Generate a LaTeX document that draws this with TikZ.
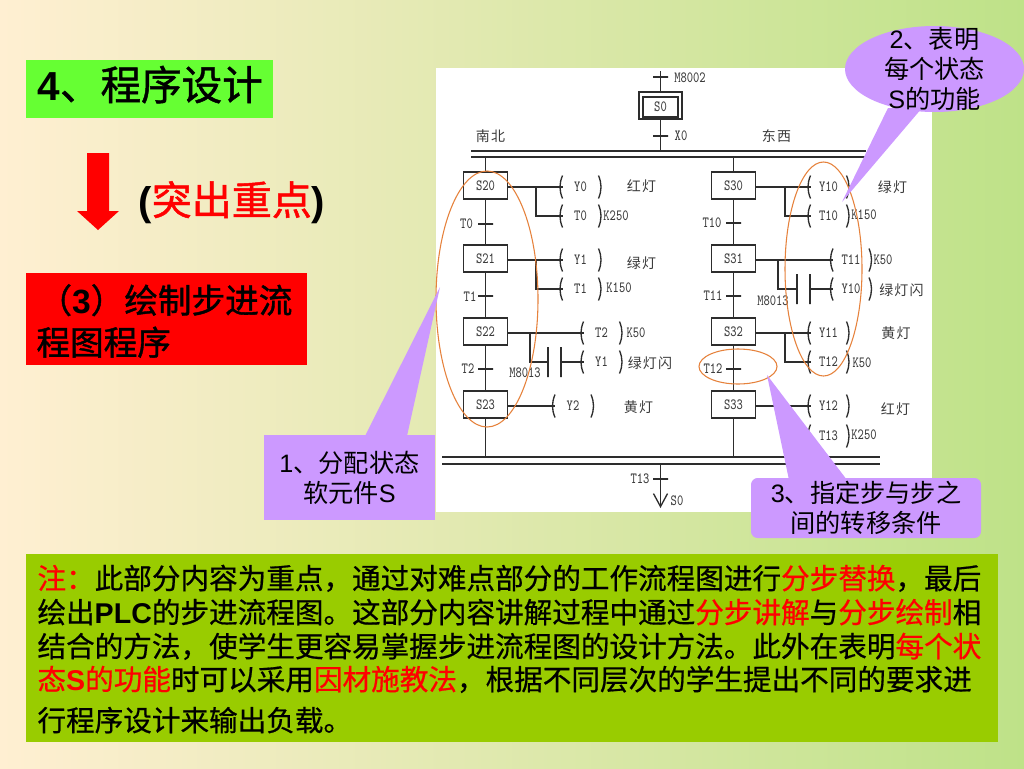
\documentclass[tikz,border=0pt]{standalone}
\usepackage{fontspec}
\usepackage{graphicx}
\setmainfont{Liberation Sans}
\newfontfamily\cjk{Noto Sans CJK SC}
\newfontfamily\cjkm[FakeBold=0.6]{Noto Sans CJK SC}
\newfontfamily\cjkb[FakeBold=1.2]{Noto Sans CJK SC}
\newfontfamily\cjks[LetterSpace=8]{Noto Sans CJK SC}
\usetikzlibrary{arrows.meta,shapes.geometric}

\definecolor{bgleft}{RGB}{255,239,210}
\definecolor{bgmid}{RGB}{228,232,178}
\definecolor{bgright}{RGB}{190,226,136}
\definecolor{titlegreen}{RGB}{102,255,51}
\definecolor{notegreen}{RGB}{153,204,0}
\definecolor{callpurple}{RGB}{204,153,255}
\definecolor{ringorange}{RGB}{230,130,60}
\definecolor{wire}{RGB}{45,45,45}
\definecolor{labgray}{RGB}{60,60,60}

\newcommand{\plab}[1]{\scalebox{1}[1.3]{\ttfamily\fontsize{9}{10}\selectfont #1}}
\newcommand{\lat}[1]{{\rmfamily\bfseries #1}}

\tikzset{every picture/.style={line width=0.75pt},
  stepbox/.style={draw=wire,line width=1pt,fill=white,inner sep=0pt,minimum width=33pt,minimum height=20.25pt,text=labgray},
  trans/.style={draw=wire,line width=1pt,inner sep=0pt,outer sep=0pt,minimum width=11.25pt,minimum height=0pt},
  contact/.style={draw=wire,line width=1pt,inner sep=0pt,outer sep=0pt,minimum width=0pt,minimum height=22.5pt},
  coil/.style={inner sep=0pt,minimum width=26.25pt,minimum height=16.5pt,text=labgray,
    append after command={(\tikzlastnode.north west) edge[draw=wire,line width=1pt,bend left=22] (\tikzlastnode.south west)
      (\tikzlastnode.north east) edge[draw=wire,line width=1pt,bend right=22] (\tikzlastnode.south east)}},
  lab/.style={inner sep=0pt,text=labgray},
  hanzi/.style={inner sep=0pt,text=labgray,font=\cjks\fontsize{10.5}{12}\selectfont},
  wireline/.style={draw=wire,line width=1pt},
  ring/.style={draw=ringorange,line width=0.8pt},
  calltext/.style={align=center,text=black,font=\cjk\fontsize{18.9}{22.5}\selectfont},
  noteline/.style={anchor=base west,inner sep=0pt,font=\cjkm\fontsize{21.45}{26}\selectfont},
}

\begin{document}
\begin{tikzpicture}[x=0.75pt,y=0.75pt,yscale=-1]

\path[use as bounding box] (0,0) rectangle (1024,768);
\shade[left color=bgleft,middle color=bgmid,right color=bgright] (0,0) rectangle (1024,768);

% left column
\node[fill=titlegreen,minimum width=185.25pt,minimum height=43.5pt,inner sep=0pt] (titlebox) at (149.5,88.5) {};
\node[anchor=base west,inner sep=0pt,font=\cjkb\fontsize{30.4}{36}\selectfont] (titletext) at (37,100) {\lat{4}、程序设计};
\fill[red] (87,153) -- (109,153) -- (109,211) -- (119,211) -- (98,230) -- (77,211) -- (87,211) -- cycle;
\node[anchor=base west,inner sep=0pt,font=\cjkb\fontsize{30}{36}\selectfont] (stress) at (138,215) {\lat{(}\textcolor{red}{突出重点}\lat{)}};
\node[fill=red,minimum width=210.75pt,minimum height=69pt,inner sep=0pt] (redbox) at (166.5,319) {};
\node[anchor=base west,inner sep=0pt,font=\cjkb\fontsize{25.2}{30}\selectfont] (redtexta) at (38,313) {（\lat{3}）绘制步进流};
\node[anchor=base west,inner sep=0pt,font=\cjkb\fontsize{25.2}{30}\selectfont] (redtextb) at (36,355) {程图程序};

% diagram panel
\fill[white] (436,68) rectangle (932,512);

\node[stepbox,minimum width=32.25pt,minimum height=20.25pt] (S0frame) at (660.5,105.5) {};
\node[stepbox,minimum width=26.25pt,minimum height=15pt] (S0) at (660.5,107) {\plab{S0}};
\node[stepbox] (S20) at (485.5,185.5) {\plab{S20}};
\node[stepbox] (S21) at (485.5,258.5) {\plab{S21}};
\node[stepbox] (S22) at (485.5,331.5) {\plab{S22}};
\node[stepbox] (S23) at (485.5,404.5) {\plab{S23}};
\node[stepbox] (S30) at (733.5,185.5) {\plab{S30}};
\node[stepbox] (S31) at (733.5,258.5) {\plab{S31}};
\node[stepbox] (S32) at (733.5,331.5) {\plab{S32}};
\node[stepbox] (S33) at (733.5,404.5) {\plab{S33}};

\node[trans] (tM) at (660.5,77) {};
\node[trans] (tX) at (660.5,136) {};
\node[trans] (tT0) at (485.5,224) {};
\node[trans] (tT1) at (485.5,296) {};
\node[trans] (tT2) at (485.5,369) {};
\node[trans] (tT10) at (733.5,223) {};
\node[trans] (tT11) at (733.5,296) {};
\node[trans] (tT12) at (733.5,369) {};
\node[trans] (tT13) at (660.5,479) {};

\coordinate (topS0) at (660.5,71);
\coordinate (barAl) at (471,151);
\coordinate (barAr) at (866,151);
\coordinate (barBl) at (471,157);
\coordinate (barBr) at (866,157);
\coordinate (barCl) at (442,457);
\coordinate (barCr) at (880,457);
\coordinate (barDl) at (442,464);
\coordinate (barDr) at (880,464);
\coordinate (endT13) at (660.5,508);

\draw[wireline] (barAl) -- (barAr);
\draw[wireline] (barBl) -- (barBr);
\draw[wireline] (barCl) -- (barCr);
\draw[wireline,line width=1.3pt] (barDl) -- (barDr);

\draw[wireline] (topS0) -- (S0frame);
\draw[wireline] (S0frame) -- (S0frame.south |- barAl);
\draw[wireline] (S20.north |- barBl) -- (S20);
\draw[wireline] (S30.north |- barBl) -- (S30);
\draw[wireline] (S20) -- (S21);
\draw[wireline] (S21) -- (S22);
\draw[wireline] (S22) -- (S23);
\draw[wireline] (S23) -- (S23.south |- barCl);
\draw[wireline] (S30) -- (S31);
\draw[wireline] (S31) -- (S32);
\draw[wireline] (S32) -- (S33);
\draw[wireline] (S33) -- (S33.south |- barCl);
\draw[wireline,-{Straight Barb[length=9.75pt,width=10.5pt]}] (S0frame.south |- barDl) -- (endT13);

% coils
\node[coil] (Y0) at (580.5,187) {\plab{Y0}};
\node[coil] (T0) at (580.5,216) {\plab{T0}};
\node[coil] (Y1) at (580.5,260) {\plab{Y1}};
\node[coil] (T1) at (580.5,289) {\plab{T1}};
\node[coil] (T2) at (601.5,333) {\plab{T2}};
\node[coil] (Y1b) at (601.5,362) {\plab{Y1}};
\node[coil] (Y2) at (573,406) {\plab{Y2}};
\node[coil] (Y10) at (828.5,187) {\plab{Y10}};
\node[coil] (T10) at (828.5,216) {\plab{T10}};
\node[coil] (T11) at (851,260) {\plab{T11}};
\node[coil] (Y10b) at (851,289) {\plab{Y10}};
\node[coil] (Y11) at (828.5,333) {\plab{Y11}};
\node[coil] (T12) at (828.5,362) {\plab{T12}};
\node[coil] (Y12) at (828.5,406) {\plab{Y12}};
\node[coil] (T13) at (828.5,436) {\plab{T13}};

\coordinate (jS20) at (536,187);
\coordinate (jS21) at (536,260);
\coordinate (jS22) at (530,333);
\coordinate (jS30) at (785,187);
\coordinate (jS31) at (778,260);
\coordinate (jS32) at (785,333);

\node[contact] (c22a) at (548,362) {};
\node[contact] (c22b) at (561,362) {};
\node[contact] (c31a) at (797,289) {};
\node[contact] (c31b) at (810,289) {};

\draw[wireline] (S20.east |- Y0.west) -- (Y0.west);
\draw[wireline] (jS20) |- (T0.west);
\draw[wireline] (S21.east |- Y1.west) -- (Y1.west);
\draw[wireline] (jS21) |- (T1.west);
\draw[wireline] (S22.east |- T2.west) -- (T2.west);
\draw[wireline] (jS22) |- (c22a);
\draw[wireline] (c22b) -- (Y1b.west);
\draw[wireline] (S23.east |- Y2.west) -- (Y2.west);
\draw[wireline] (S30.east |- Y10.west) -- (Y10.west);
\draw[wireline] (jS30) |- (T10.west);
\draw[wireline] (S31.east |- T11.west) -- (T11.west);
\draw[wireline] (jS31) |- (c31a);
\draw[wireline] (c31b) -- (Y10b.west);
\draw[wireline] (S32.east |- Y11.west) -- (Y11.west);
\draw[wireline] (jS32) |- (T12.west);
\draw[wireline] (S33.east |- Y12.west) -- (Y12.west);

% labels
\node[lab] (lM8002) at (690,78) {\plab{M8002}};
\node[lab] (lX0) at (681,136) {\plab{X0}};
\node[lab] (lT0) at (466.5,224) {\plab{T0}};
\node[lab] (lT1) at (470,297) {\plab{T1}};
\node[lab] (lT2) at (468,369) {\plab{T2}};
\node[lab] (lT10) at (712,223) {\plab{T10}};
\node[lab] (lT11) at (713,296) {\plab{T11}};
\node[lab] (lT12) at (713,369) {\plab{T12}};
\node[lab] (lT13) at (640,479) {\plab{T13}};
\node[lab] (lS0) at (677,501) {\plab{S0}};
\node[lab] (lK250a) at (616,216) {\plab{K250}};
\node[lab] (lK150a) at (619,288) {\plab{K150}};
\node[lab] (lK50a) at (636,333) {\plab{K50}};
\node[lab] (lM8013a) at (525,373) {\plab{M8013}};
\node[lab] (lK150b) at (864,215) {\plab{K150}};
\node[lab] (lK50b) at (883,260) {\plab{K50}};
\node[lab] (lM8013b) at (773,301) {\plab{M8013}};
\node[lab] (lK50c) at (862,363) {\plab{K50}};
\node[lab] (lK250b) at (864,435) {\plab{K250}};

\node[hanzi] (nanbei) at (490.5,136) {南北};
\node[hanzi] (dongxi) at (776.5,136) {东西};
\node[hanzi] (hongA) at (641.5,186) {红灯};
\node[hanzi] (lvA) at (641.5,263) {绿灯};
\node[hanzi] (shanA) at (650,363) {绿灯闪};
\node[hanzi] (huangA) at (638.5,407) {黄灯};
\node[hanzi] (lvB) at (892.5,187) {绿灯};
\node[hanzi] (shanB) at (901.5,290) {绿灯闪};
\node[hanzi] (huangB) at (896,333) {黄灯};
\node[hanzi] (hongB) at (895.5,409) {红灯};

% rings
\draw[ring] (487,299) ellipse (51 and 128);
\draw[ring] (823.5,269) ellipse (38.5 and 107);
\draw[ring] (738,366.5) ellipse (39 and 17.5);

% callouts
\fill[callpurple] (365,436) -- (440,287) -- (407,436) -- cycle;
\node[fill=callpurple,minimum width=128.25pt,minimum height=63.75pt,inner sep=0pt,calltext] (callA) at (349.5,477.5) {\textrm{1}、分配状态\\软元件\textrm{S}};
\fill[callpurple] (888,108) -- (842,202) -- (922,108) -- cycle;
\node[ellipse,fill=callpurple,minimum width=134.25pt,minimum height=64.5pt,inner sep=0pt] (callB) at (934.5,69) {};
\node[inner sep=0pt,calltext] (callBtext) at (934.5,69) {\textrm{2}、表明\\每个状态\\\textrm{S}的功能};
\fill[callpurple] (789,480) -- (767,375) -- (847,480) -- cycle;
\node[fill=callpurple,rounded corners=5pt,minimum width=172.5pt,minimum height=45pt,inner sep=0pt,calltext] (callC) at (866,508) {\textrm{3}、指定步与步之\\间的转移条件};

% note
\node[fill=notegreen,minimum width=729pt,minimum height=141pt,inner sep=0pt] (notebox) at (512,648) {};
\node[noteline] (noteA) at (37,589) {\textcolor{red}{注：}此部分内容为重点，通过对难点部分的工作流程图进行\textcolor{red}{分步替换}，最后};
\node[noteline] (noteB) at (37,623) {绘出\lat{PLC}的步进流程图。这部分内容讲解过程中通过\textcolor{red}{分步讲解}与\textcolor{red}{分步绘制}相};
\node[noteline] (noteC) at (37,657) {结合的方法，使学生更容易掌握步进流程图的设计方法。此外在表明\textcolor{red}{每个状}};
\node[noteline] (noteD) at (37,690) {\textcolor{red}{态\lat{S}的功能}时可以采用\textcolor{red}{因材施教法}，根据不同层次的学生提出不同的要求进};
\node[noteline] (noteE) at (37,731) {行程序设计来输出负载。};

\end{tikzpicture}
\end{document}
